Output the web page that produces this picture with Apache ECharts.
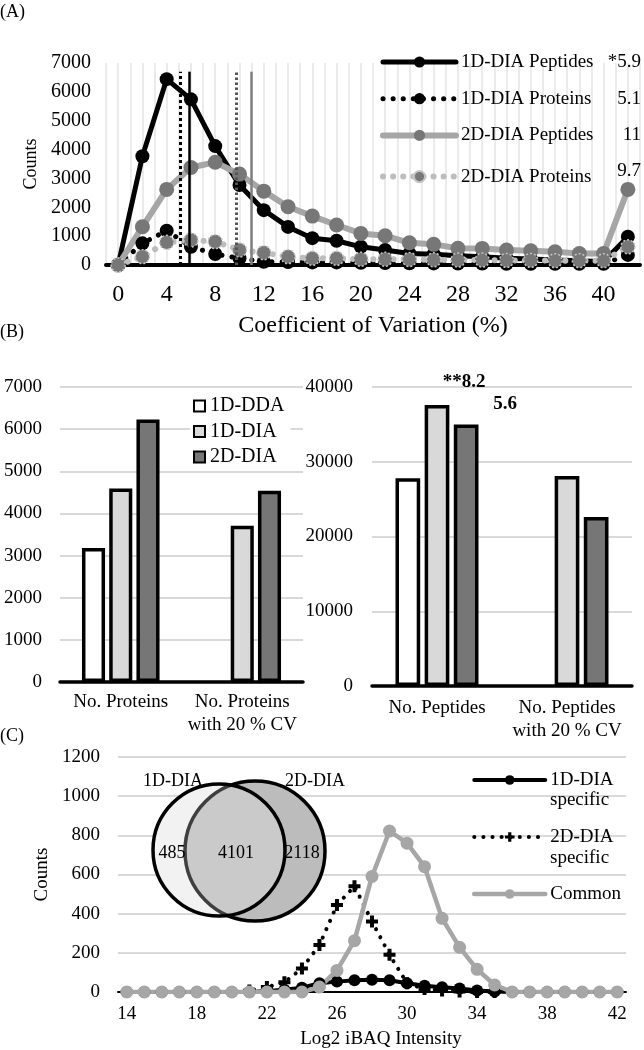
<!DOCTYPE html>
<html>
<head>
<meta charset="utf-8">
<script src="https://cdn.jsdelivr.net/npm/echarts@6/dist/echarts.min.js"></script>
<style>
  html, body { margin: 0; padding: 0; background: #fff; }
  #chart { width: 644px; height: 1050px; }
</style>
</head>
<body>
<div id="chart"></div>
<script>
// panel A: CV distribution
const cvBins = [0, 2, 4, 6, 8, 10, 12, 14, 16, 18, 20, 22, 24, 26, 28, 30, 32, 34, 36, 38, 40, 42];
const pep1D = [0, 3770, 6440, 5740, 4120, 2770, 1900, 1320, 930, 840, 630, 520, 400, 370, 320, 290, 230, 210, 170, 150, 115, 980];
const prot1D = [0, 750, 1190, 630, 380, 230, 115, 100, 90, 90, 80, 70, 60, 55, 50, 50, 45, 45, 40, 40, 40, 350];
const pep2D = [0, 1325, 2620, 3380, 3560, 3150, 2560, 2020, 1695, 1385, 1095, 1015, 770, 715, 580, 575, 520, 495, 460, 400, 400, 2620];
const prot2D = [0, 290, 785, 865, 810, 520, 425, 290, 230, 230, 200, 200, 190, 180, 170, 170, 160, 160, 150, 150, 150, 630];
const cvNames = ["1D-DIA Peptides", "1D-DIA Proteins", "2D-DIA Peptides", "2D-DIA Proteins"];
const cvMedians = [5.9, 5.1, 11, 9.7];
const cvMedianLabels = ["*5.9", "5.1", "11", "9.7"];
const cvMedianTop = 6700;

// panel B: identifications
const protCats = ["No. Proteins", "No. Proteins\nwith 20 % CV"];
const pepCats = ["No. Peptides", "No. Peptides\nwith 20 % CV"];
const barNames = ["1D-DDA", "1D-DIA", "2D-DIA"];
const protDDA = [3180, "-"];
const prot1DDIA = [4590, 3710];
const prot2DDIA = [6230, 4540];
const pepDDA = [27800, "-"];
const pep1DDIA = [37600, 28100];
const pep2DDIA = [35000, 22600];

// panel C: intensity distribution
const ibaqBins = ["14","15","16","17","18","19","20","21","22","23","24","25","26","27","28","29","30","31","32","33","34","35","36","37","38","39","40","41","42"];
const spec1D = [0,0,0,0,0,0,0,0,5,12,22,45,53,60,63,60,45,32,24,18,8,3,0,0,0,0,0,0,0];
const spec2D = [0,0,0,0,0,0,0,8,25,50,120,240,444,540,360,190,45,15,8,3,0,0,0,0,0,0,0,0,0];
const common = [0,0,0,0,0,0,0,0,0,0,0,25,110,262,590,822,760,640,376,228,116,36,0,0,0,0,0,0,0];
const ibaqNames = ["1D-DIA specific", "2D-DIA specific", "Common"];
const vennCounts = ["485", "4101", "2118"];

const FONT = "'Liberation Serif', 'Times New Roman', serif";
const GRID_LINE = "#d9d9d9";
const PLUS = "path://M4,0H8V4H12V8H8V12H4V8H0V4H4Z";

function pairs(xs, ys) {
  return xs.map((x, i) => [x, ys[i]]);
}

function medianLine(value, style) {
  return {
    silent: true,
    symbol: "none",
    label: { show: false },
    lineStyle: style,
    data: [[{ coord: [value, 0] }, { coord: [value, cvMedianTop] }]],
  };
}

const plain = (v) => String(v);

const chart = echarts.init(document.getElementById("chart"), null, { renderer: "canvas" });

const yLabel = { color: "#000", fontSize: 20, fontFamily: FONT, formatter: plain };

const option = {
  animation: false,
  backgroundColor: "#fff",
  textStyle: { fontFamily: FONT, color: "#000" },

  grid: [
    { left: 106, top: 63, width: 534, height: 202 },
    { left: 60, top: 387, width: 243, height: 295 },
    { left: 372, top: 387, width: 260, height: 299 },
    { left: 118, top: 757, width: 508, height: 235 },
  ],

  xAxis: [
    {
      gridIndex: 0,
      type: "value",
      min: -1,
      max: 43,
      interval: 1,
      name: "Coefficient of Variation (%)",
      nameLocation: "middle",
      nameGap: 49,
      nameTextStyle: { fontSize: 24, color: "#000", fontFamily: FONT },
      axisLine: { onZero: false, lineStyle: { color: "#000", width: 4 } },
      axisTick: { show: false },
      axisLabel: {
        fontSize: 24,
        color: "#000",
        margin: 18,
        formatter: (v) => (v >= 0 && v <= 40 && v % 4 === 0 ? String(v) : ""),
      },
      splitLine: { show: true, lineStyle: { color: "#e4e4e4", width: 1.5 } },
    },
    {
      gridIndex: 1,
      type: "category",
      data: protCats,
      axisLine: { lineStyle: { color: "#000", width: 3.5 } },
      axisTick: { show: false },
      axisLabel: { fontSize: 19, lineHeight: 23, color: "#000", margin: 9, interval: 0 },
    },
    {
      gridIndex: 2,
      type: "category",
      data: pepCats,
      axisLine: { lineStyle: { color: "#000", width: 3.5 } },
      axisTick: { show: false },
      axisLabel: { fontSize: 19, lineHeight: 23, color: "#000", margin: 11, interval: 0 },
    },
    {
      gridIndex: 3,
      type: "category",
      data: ibaqBins,
      boundaryGap: true,
      name: "Log2 iBAQ Intensity",
      nameLocation: "middle",
      nameGap: 38,
      nameTextStyle: { fontSize: 19, color: "#000", padding: [0, 0, 0, 18] },
      axisLine: { lineStyle: { color: "#000", width: 2 } },
      axisTick: { show: false },
      axisLabel: { fontSize: 19, color: "#000", margin: 13, interval: 3 },
    },
  ],

  yAxis: [
    {
      gridIndex: 0,
      type: "value",
      min: 0,
      max: 7000,
      interval: 1000,
      name: "Counts",
      nameLocation: "middle",
      nameGap: 64,
      nameTextStyle: { fontSize: 18, color: "#000" },
      axisLine: { show: false },
      axisTick: { show: false },
      axisLabel: { ...yLabel, margin: 15 },
      splitLine: { show: false },
    },
    {
      gridIndex: 1,
      type: "value",
      min: 0,
      max: 7000,
      interval: 1000,
      axisLine: { show: false },
      axisTick: { show: false },
      axisLabel: { ...yLabel, fontSize: 19, margin: 18 },
      splitLine: { lineStyle: { color: GRID_LINE, width: 2 } },
    },
    {
      gridIndex: 2,
      type: "value",
      min: 0,
      max: 40000,
      interval: 10000,
      axisLine: { show: false },
      axisTick: { show: false },
      axisLabel: { ...yLabel, fontSize: 19, margin: 19 },
      splitLine: { lineStyle: { color: GRID_LINE, width: 2 } },
    },
    {
      gridIndex: 3,
      type: "value",
      min: 0,
      max: 1200,
      interval: 200,
      name: "Counts",
      nameLocation: "middle",
      nameGap: 64,
      nameTextStyle: { fontSize: 19, color: "#000" },
      axisLine: { show: false },
      axisTick: { show: false },
      axisLabel: { ...yLabel, fontSize: 19, margin: 18 },
      splitLine: { lineStyle: { color: GRID_LINE, width: 2 } },
    },
  ],

  legend: [
    {
      data: cvNames,
      orient: "vertical",
      left: 380,
      top: 51,
      padding: 0,
      itemWidth: 73,
      itemHeight: 14,
      itemGap: 14.7,
      selectedMode: false,
      lineStyle: { width: "inherit", type: "inherit", cap: "round" },
      formatter: (name) => {
        const i = cvNames.indexOf(name);
        const key = i === 3 ? "w" : "v";
        return `{n|${name}}{${key}|${cvMedianLabels[i]}}`;
      },
      textStyle: {
        color: "#000",
        fontSize: 19,
        lineHeight: 22,
        rich: {
          n: { width: 136, fontSize: 19, fontFamily: FONT, color: "#000" },
          v: { width: 44, align: "right", fontSize: 19, fontFamily: FONT, color: "#000" },
          w: { width: 44, align: "right", fontSize: 19, fontFamily: FONT, color: "#000", padding: [0, 0, 12, 0] },
        },
      },
    },
    {
      data: barNames,
      orient: "vertical",
      left: 190,
      top: 393,
      padding: [3, 6, 3, 3],
      backgroundColor: "#fff",
      icon: "rect",
      itemWidth: 11,
      itemHeight: 11,
      itemGap: 5.5,
      selectedMode: false,
      textStyle: { color: "#000", fontSize: 20, lineHeight: 20 },
    },
    {
      data: ibaqNames,
      orient: "vertical",
      left: 472,
      top: 770,
      padding: 0,
      itemWidth: 71,
      itemHeight: 12,
      itemGap: 37,
      selectedMode: false,
      lineStyle: { width: "inherit", type: "inherit", cap: "round" },
      formatter: (name) => name.split(" ")[0],
      textStyle: { color: "#000", fontSize: 19, lineHeight: 20 },
    },
  ],

  graphic: [
    { type: "text", left: 0, top: 3, style: { text: "(A)", font: `18px ${FONT}`, fill: "#000" } },
    { type: "text", left: 0, top: 323, style: { text: "(B)", font: `18px ${FONT}`, fill: "#000" } },
    { type: "text", left: 0, top: 727, style: { text: "(C)", font: `18px ${FONT}`, fill: "#000" } },
    {
      type: "text", x: 464, y: 382, z: 10,
      style: { text: "**8.2", font: `bold 19px ${FONT}`, fill: "#000", align: "center", verticalAlign: "middle" },
    },
    {
      type: "text", x: 505, y: 404, z: 10,
      style: { text: "5.6", font: `bold 19px ${FONT}`, fill: "#000", align: "center", verticalAlign: "middle" },
    },
    {
      type: "text", x: 550, y: 800, z: 10,
      style: { text: "specific", font: `19px ${FONT}`, fill: "#000", verticalAlign: "middle" },
    },
    {
      type: "text", x: 550, y: 858, z: 10,
      style: { text: "specific", font: `19px ${FONT}`, fill: "#000", verticalAlign: "middle" },
    },
    // Venn inset
    { type: "circle", z: 1, shape: { cx: 219, cy: 850, r: 66 }, style: { fill: "#f2f2f2", stroke: "none" } },
    { type: "circle", z: 1, shape: { cx: 255, cy: 851, r: 70 }, style: { fill: "#bcbcbc", stroke: "#000", lineWidth: 3.5 } },
    { type: "circle", z: 1, shape: { cx: 219, cy: 850, r: 66 }, style: { fill: "rgba(245,245,245,0.26)", stroke: "#000", lineWidth: 3.5 } },
    {
      type: "text", x: 173, y: 781, z: 3,
      style: { text: "1D-DIA", font: `18px ${FONT}`, fill: "#000", align: "center", verticalAlign: "middle" },
    },
    {
      type: "text", x: 315, y: 781, z: 3,
      style: { text: "2D-DIA", font: `18px ${FONT}`, fill: "#000", align: "center", verticalAlign: "middle" },
    },
    {
      type: "text", x: 172, y: 853, z: 3,
      style: { text: vennCounts[0], font: `18px ${FONT}`, fill: "#000", align: "center", verticalAlign: "middle" },
    },
    {
      type: "text", x: 236, y: 853, z: 3,
      style: { text: vennCounts[1], font: `18px ${FONT}`, fill: "#000", align: "center", verticalAlign: "middle" },
    },
    {
      type: "text", x: 302, y: 853, z: 3,
      style: { text: vennCounts[2], font: `18px ${FONT}`, fill: "#000", align: "center", verticalAlign: "middle" },
    },
  ],

  series: [
    // A
    {
      name: cvNames[0],
      type: "line",
      xAxisIndex: 0,
      yAxisIndex: 0,
      data: pairs(cvBins, pep1D),
      symbol: "circle",
      symbolSize: 14,
      showAllSymbol: true,
      lineStyle: { color: "#000", width: 5 },
      itemStyle: { color: "#000" },
      markLine: medianLine(cvMedians[0], { color: "#000", width: 2.5, type: "solid" }),
    },
    {
      name: cvNames[1],
      type: "line",
      xAxisIndex: 0,
      yAxisIndex: 0,
      data: pairs(cvBins, prot1D),
      symbol: "circle",
      symbolSize: 14,
      showAllSymbol: true,
      lineStyle: { color: "#000", width: 5, type: [0.1, 10], cap: "round" },
      itemStyle: { color: "#000" },
      markLine: medianLine(cvMedians[1], { color: "#000", width: 3, type: [3, 3] }),
    },
    {
      name: cvNames[2],
      type: "line",
      xAxisIndex: 0,
      yAxisIndex: 0,
      data: pairs(cvBins, pep2D),
      symbol: "circle",
      symbolSize: 15,
      showAllSymbol: true,
      lineStyle: { color: "#a6a6a6", width: 6 },
      itemStyle: { color: "#777777" },
      markLine: medianLine(cvMedians[2], { color: "#808080", width: 2.5, type: "solid" }),
    },
    {
      name: cvNames[3],
      type: "line",
      xAxisIndex: 0,
      yAxisIndex: 0,
      data: pairs(cvBins, prot2D),
      symbol: "circle",
      symbolSize: 14,
      showAllSymbol: true,
      lineStyle: { color: "#bdbdbd", width: 6, type: [0.1, 10], cap: "round" },
      itemStyle: { color: "#777777", borderColor: "#c4c4c4", borderWidth: 1.5, borderType: [2, 2] },
      markLine: medianLine(cvMedians[3], { color: "#555", width: 3, type: [2.5, 2.5] }),
    },

    // B left
    {
      name: barNames[0], type: "bar", xAxisIndex: 1, yAxisIndex: 1, data: protDDA,
      barWidth: "19%", barGap: "18%",
      itemStyle: { color: "#ffffff", borderColor: "#000", borderWidth: 3.5 },
    },
    {
      name: barNames[1], type: "bar", xAxisIndex: 1, yAxisIndex: 1, data: prot1DDIA,
      barWidth: "19%", barGap: "18%",
      itemStyle: { color: "#d9d9d9", borderColor: "#000", borderWidth: 3.5 },
    },
    {
      name: barNames[2], type: "bar", xAxisIndex: 1, yAxisIndex: 1, data: prot2DDIA,
      barWidth: "19%", barGap: "18%",
      itemStyle: { color: "#767676", borderColor: "#000", borderWidth: 3.5 },
    },
    // B right
    {
      name: barNames[0], type: "bar", xAxisIndex: 2, yAxisIndex: 2, data: pepDDA,
      barWidth: "19%", barGap: "18%",
      itemStyle: { color: "#ffffff", borderColor: "#000", borderWidth: 3.5 },
    },
    {
      name: barNames[1], type: "bar", xAxisIndex: 2, yAxisIndex: 2, data: pep1DDIA,
      barWidth: "19%", barGap: "18%",
      itemStyle: { color: "#d9d9d9", borderColor: "#000", borderWidth: 3.5 },
    },
    {
      name: barNames[2], type: "bar", xAxisIndex: 2, yAxisIndex: 2, data: pep2DDIA,
      barWidth: "19%", barGap: "18%",
      itemStyle: { color: "#767676", borderColor: "#000", borderWidth: 3.5 },
    },

    // C
    {
      name: ibaqNames[0],
      type: "line",
      xAxisIndex: 3,
      yAxisIndex: 3,
      data: spec1D,
      symbol: "circle",
      symbolSize: 12,
      showAllSymbol: true,
      lineStyle: { color: "#000", width: 4 },
      itemStyle: { color: "#000" },
    },
    {
      name: ibaqNames[1],
      type: "line",
      xAxisIndex: 3,
      yAxisIndex: 3,
      data: spec2D,
      symbol: PLUS,
      symbolSize: 12,
      showAllSymbol: true,
      lineStyle: { color: "#000", width: 4, type: [0.1, 9], cap: "round" },
      itemStyle: { color: "#000" },
    },
    {
      name: ibaqNames[2],
      type: "line",
      xAxisIndex: 3,
      yAxisIndex: 3,
      data: common,
      symbol: "circle",
      symbolSize: 13,
      showAllSymbol: true,
      lineStyle: { color: "#a6a6a6", width: 4.5 },
      itemStyle: { color: "#a6a6a6" },
    },
  ],
};

chart.setOption(option);
</script>
</body>
</html>
